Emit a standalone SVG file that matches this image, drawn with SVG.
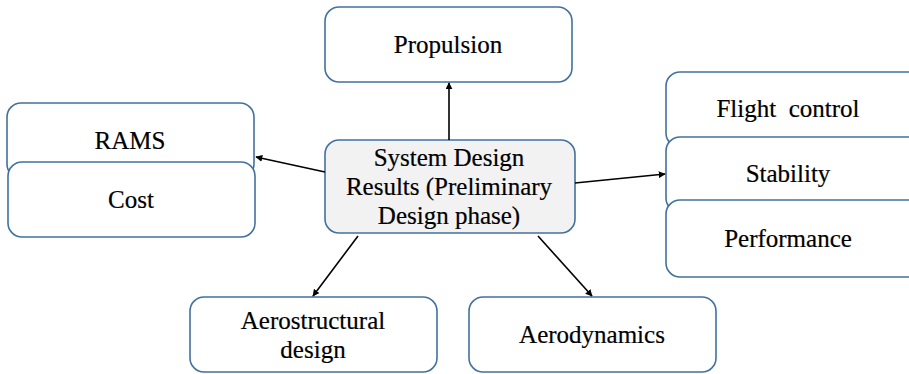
<svg xmlns="http://www.w3.org/2000/svg" width="909" height="374" viewBox="0 0 909 374">
<defs>
<style>
.box{fill:#ffffff;stroke:#41719c;stroke-width:1.6}
.core{fill:#f2f2f2;stroke:#41719c;stroke-width:1.6}
.t{font-family:'Liberation Serif','DejaVu Serif',serif;font-size:25px;fill:#000;stroke:#000;stroke-width:0.2;text-anchor:middle}
.c{stroke:#000;stroke-width:1.6;fill:none;marker-end:url(#ah)}
</style>
<marker id="ah" viewBox="0 0 10 10" refX="9" refY="5" markerWidth="7" markerHeight="7" orient="auto" markerUnits="userSpaceOnUse">
<path d="M0,0 L10,5 L0,10 z" fill="#000"/>
</marker>
</defs>
<rect width="909" height="374" fill="#fff"/>
<g id="propulsion"><rect class="box" x="325" y="7" width="247" height="75" rx="14"/><text class="t" x="448" y="53">Propulsion</text></g>
<g id="rams"><rect class="box" x="7" y="103" width="247" height="75" rx="14"/><text class="t" x="130" y="149">RAMS</text></g>
<g id="cost"><rect class="box" x="8" y="162" width="247" height="75" rx="14"/><text class="t" x="131" y="208">Cost</text></g>
<g id="flight-control"><rect class="box" x="666" y="72" width="260" height="75" rx="14"/><text class="t" x="788" y="117" xml:space="preserve">Flight  control</text></g>
<g id="stability"><rect class="box" x="666" y="137" width="260" height="75" rx="14"/><text class="t" x="788" y="182">Stability</text></g>
<g id="performance"><rect class="box" x="666" y="200" width="260" height="77" rx="14"/><text class="t" x="788" y="247">Performance</text></g>
<g id="core"><rect class="core" x="325" y="140" width="250" height="93" rx="14"/>
<text class="t" x="449" y="166">System Design</text><text class="t" x="449" y="195">Results (Preliminary</text><text class="t" x="449" y="224">Design phase)</text></g>
<g id="aerostructural"><rect class="box" x="190" y="297" width="247" height="75" rx="14"/><text class="t" x="313" y="329">Aerostructural</text><text class="t" x="313" y="358">design</text></g>
<g id="aerodynamics"><rect class="box" x="469" y="297" width="247" height="75" rx="14"/><text class="t" x="592" y="343">Aerodynamics</text></g>
<g id="connectors">
<line class="c" x1="449" y1="140" x2="449" y2="83"/>
<line class="c" x1="325" y1="172" x2="256" y2="157"/>
<line class="c" x1="575" y1="183" x2="665" y2="174"/>
<line class="c" x1="358" y1="236" x2="313" y2="296"/>
<line class="c" x1="538" y1="236" x2="592" y2="296"/>
</g>
</svg>
